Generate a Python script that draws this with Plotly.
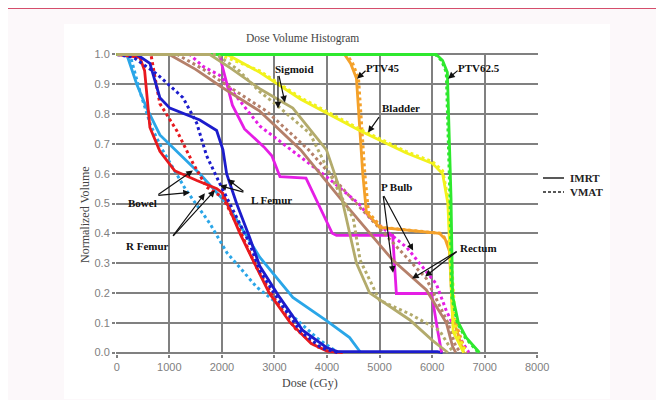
import plotly.graph_objects as go

# ---------------- data (dose in cGy, normalized volume) ----------------
bowel_imrt_dose = [0, 190, 380, 570, 820, 1200, 1580, 2090, 2720, 3350, 3990, 4430, 4560, 4640]
bowel_imrt_vol = [1.0, 1.0, 0.90, 0.82, 0.73, 0.665, 0.60, 0.50, 0.32, 0.185, 0.107, 0.05, 0.02, 0.0]
bowel_vmat_dose = [0, 250, 450, 650, 876, 1300, 1771, 2095, 2660, 3300, 3800, 4200]
bowel_vmat_vol = [1.0, 1.0, 0.87, 0.76, 0.678, 0.55, 0.433, 0.335, 0.22, 0.13, 0.05, 0.0]

rfemur_imrt_dose = [0, 440, 530, 630, 820, 1100, 1524, 1905, 2019, 2343, 2590, 2900, 3300, 3700, 4000, 4300]
rfemur_imrt_vol = [1.0, 0.99, 0.945, 0.755, 0.675, 0.61, 0.577, 0.55, 0.534, 0.40, 0.31, 0.20, 0.10, 0.03, 0.005, 0.0]
rfemur_vmat_dose = [0, 650, 720, 820, 1140, 1450, 1710, 2020, 2340, 2660, 3000, 3400, 3800, 4200]
rfemur_vmat_vol = [1.0, 1.0, 0.93, 0.835, 0.745, 0.635, 0.555, 0.52, 0.41, 0.285, 0.18, 0.08, 0.02, 0.0]

lfemur_imrt_dose = [0, 380, 630, 820, 1010, 1580, 1900, 2020, 2090, 2280, 2530, 2720, 3100, 3540, 3990, 4200, 6100, 6200]
lfemur_imrt_vol = [1.0, 1.0, 0.97, 0.855, 0.82, 0.78, 0.745, 0.68, 0.60, 0.50, 0.385, 0.29, 0.185, 0.074, 0.017, 0.003, 0.003, 0.0]
lfemur_vmat_dose = [0, 320, 760, 1260, 1520, 1710, 1960, 2210, 2530, 2720, 3100, 3500, 3900, 4200]
lfemur_vmat_vol = [1.0, 0.99, 0.935, 0.855, 0.77, 0.66, 0.567, 0.477, 0.365, 0.275, 0.17, 0.07, 0.015, 0.0]

pbulb_imrt_dose = [0, 1950, 2015, 2200, 2430, 2800, 2950, 3105, 3600, 4100, 4180, 5250, 5320, 5990, 6100, 6180]
pbulb_imrt_vol = [1.0, 1.0, 0.956, 0.83, 0.75, 0.69, 0.66, 0.59, 0.585, 0.40, 0.393, 0.393, 0.198, 0.198, 0.08, 0.0]
pbulb_vmat_dose = [0, 1390, 1640, 1960, 2720, 3990, 4600, 4819, 5520, 6080, 6270, 6520, 6700]
pbulb_vmat_vol = [1.0, 1.0, 0.96, 0.93, 0.76, 0.59, 0.50, 0.453, 0.352, 0.23, 0.14, 0.05, 0.0]

rectum_imrt_dose = [0, 1000, 1500, 2000, 2720, 3500, 4240, 5250, 5890, 6270, 6390, 6450]
rectum_imrt_vol = [1.0, 1.0, 0.95, 0.89, 0.81, 0.68, 0.52, 0.31, 0.21, 0.10, 0.02, 0.0]
rectum_vmat_dose = [0, 1150, 1650, 2150, 2850, 3650, 4400, 5570, 5890, 6300, 6450, 6550]
rectum_vmat_vol = [1.0, 1.0, 0.95, 0.89, 0.81, 0.68, 0.53, 0.31, 0.248, 0.10, 0.02, 0.0]

sigmoid_imrt_dose = [0, 1770, 2200, 2720, 3350, 3990, 4240, 4370, 4560, 4810, 5570, 6010, 6300]
sigmoid_imrt_vol = [1.0, 1.0, 0.95, 0.885, 0.82, 0.68, 0.55, 0.45, 0.30, 0.20, 0.11, 0.04, 0.0]
sigmoid_vmat_dose = [0, 1900, 2300, 2720, 3010, 3676, 4250, 4500, 4630, 5000, 5570, 6140, 6400]
sigmoid_vmat_vol = [1.0, 1.0, 0.95, 0.875, 0.835, 0.735, 0.53, 0.45, 0.31, 0.175, 0.13, 0.074, 0.0]

bladder_imrt_dose = [0, 2100, 2720, 3500, 4620, 5500, 6010, 6200, 6300, 6350, 6400, 6600]
bladder_imrt_vol = [1.0, 1.0, 0.94, 0.85, 0.745, 0.67, 0.634, 0.60, 0.50, 0.30, 0.07, 0.0]
bladder_vmat_dose = [0, 1950, 2720, 3500, 4620, 5500, 6010, 6200, 6300, 6380, 6450, 6650]
bladder_vmat_vol = [1.0, 1.0, 0.945, 0.855, 0.75, 0.675, 0.64, 0.61, 0.52, 0.30, 0.07, 0.0]

ptv45_imrt_dose = [0, 4335, 4450, 4560, 4680, 4750, 5000, 6140, 6250, 6330, 6390, 6600]
ptv45_imrt_vol = [1.0, 1.0, 0.97, 0.92, 0.60, 0.47, 0.42, 0.40, 0.38, 0.34, 0.12, 0.0]
ptv45_vmat_dose = [0, 4380, 4490, 4600, 4720, 4790, 5040, 6150, 6270, 6350, 6410, 6640]
ptv45_vmat_vol = [1.0, 1.0, 0.97, 0.92, 0.60, 0.47, 0.42, 0.40, 0.38, 0.34, 0.12, 0.0]

ptv625_imrt_dose = [0, 6080, 6200, 6290, 6330, 6360, 6390, 6500, 6650, 6900]
ptv625_imrt_vol = [1.0, 1.0, 0.98, 0.94, 0.70, 0.52, 0.19, 0.10, 0.05, 0.0]
ptv625_vmat_dose = [0, 6060, 6180, 6270, 6310, 6340, 6370, 6480, 6630, 6880]
ptv625_vmat_vol = [1.0, 1.0, 0.98, 0.94, 0.70, 0.52, 0.19, 0.10, 0.05, 0.0]

x_ticks = [0, 1000, 2000, 3000, 4000, 5000, 6000, 7000, 8000]
y_ticks = [0.0, 0.1, 0.2, 0.3, 0.4, 0.5, 0.6, 0.7, 0.8, 0.9, 1.0]

# (label, dose, volume) text positions and arrows (tail dose, tail vol, head dose, head vol)
organ_labels = [
    ("Sigmoid", 3390, 0.953), ("PTV45", 5067, 0.956), ("PTV62.5", 6895, 0.956),
    ("Bladder", 5410, 0.819), ("P Bulb", 5333, 0.554), ("Rectum", 6876, 0.352),
    ("L Femur", 2952, 0.513), ("Bowel", 495, 0.503), ("R Femur", 590, 0.359),
]
label_arrows = [
    (3067, 0.933, 3067, 0.819), (3080, 0.933, 3200, 0.839),
    (4762, 0.950, 4571, 0.919),
    (6514, 0.950, 6305, 0.919),
    (5010, 0.795, 4781, 0.738),
    (5067, 0.530, 5257, 0.268), (5067, 0.530, 5638, 0.342),
    (6495, 0.342, 5619, 0.248), (6495, 0.342, 5867, 0.255),
    (2438, 0.537, 2114, 0.581), (2438, 0.537, 1962, 0.560),
    (762, 0.527, 1448, 0.611), (762, 0.527, 1390, 0.537),
    (1048, 0.386, 1676, 0.534), (1048, 0.386, 1867, 0.544),
]

# ---------------- layout geometry ----------------
# the page body has an 8px margin, so figure pixel = page pixel - 8
OFF = 8
FIG_W, FIG_H = 664, 400
L, T = 116 - OFF, 53 - OFF
PW, PH = 422, 301
R, B = FIG_W - L - PW, FIG_H - T - PH

def px(xp):
    return (xp - OFF - L) / PW

def py(yp):
    return (T + PH - (yp - OFF)) / PH

C_LB, C_RED, C_BLUE = "#2aa6e8", "#e8191e", "#1c1ccc"
C_MAG, C_BROWN, C_OLIVE = "#e51ee5", "#b5806a", "#b3ab6c"
C_YEL, C_ORG, C_GRN = "#f2f21c", "#f4a12a", "#2ee82e"

series = [
    (bowel_vmat_dose, bowel_vmat_vol, C_LB, "dot"),
    (bowel_imrt_dose, bowel_imrt_vol, C_LB, "solid"),
    (rfemur_vmat_dose, rfemur_vmat_vol, C_RED, "dot"),
    (rfemur_imrt_dose, rfemur_imrt_vol, C_RED, "solid"),
    (lfemur_vmat_dose, lfemur_vmat_vol, C_BLUE, "dot"),
    (lfemur_imrt_dose, lfemur_imrt_vol, C_BLUE, "solid"),
    (pbulb_vmat_dose, pbulb_vmat_vol, C_MAG, "dot"),
    (pbulb_imrt_dose, pbulb_imrt_vol, C_MAG, "solid"),
    (rectum_vmat_dose, rectum_vmat_vol, C_BROWN, "dot"),
    (rectum_imrt_dose, rectum_imrt_vol, C_BROWN, "solid"),
    (ptv45_vmat_dose, ptv45_vmat_vol, C_ORG, "dot"),
    (ptv45_imrt_dose, ptv45_imrt_vol, C_ORG, "solid"),
    (bladder_vmat_dose, bladder_vmat_vol, C_YEL, "dot"),
    (bladder_imrt_dose, bladder_imrt_vol, C_YEL, "solid"),
    (ptv625_vmat_dose, ptv625_vmat_vol, C_GRN, "dot"),
    (ptv625_imrt_dose, ptv625_imrt_vol, C_GRN, "solid"),
    (sigmoid_vmat_dose, sigmoid_vmat_vol, C_OLIVE, "dot"),
    (sigmoid_imrt_dose, sigmoid_imrt_vol, C_OLIVE, "solid"),
]

fig = go.Figure()
for xs, ys, col, dash in series:
    fig.add_trace(go.Scatter(x=xs, y=ys, mode="lines", showlegend=False, hoverinfo="skip",
                             line=dict(color=col, width=2.8 if dash == "solid" else 3, dash=dash)))

SERIF = "Liberation Serif, Times New Roman, serif"
SANS = "Liberation Sans, Arial, sans-serif"

ann = []
for text, xd, yd in organ_labels:
    ann.append(dict(x=xd, y=yd, xref="x", yref="y", text=f"<b>{text}</b>", showarrow=False,
                    font=dict(family=SERIF, size=11, color="#111")))
for tx, ty, hx, hy in label_arrows:
    ann.append(dict(x=hx, y=hy, ax=tx, ay=ty, xref="x", yref="y", axref="x", ayref="y", text="",
                    showarrow=True, arrowhead=2, arrowsize=1.1, arrowwidth=1.2, arrowcolor="#111"))
ann += [
    dict(x=px(302), y=py(30), xref="paper", yref="paper", text="Dose Volume Histogram", showarrow=False,
         font=dict(family=SERIF, size=11.5, color="#444")),
    dict(x=px(310), y=py(392), xref="paper", yref="paper", text="Dose (cGy)", showarrow=False,
         font=dict(family=SERIF, size=12, color="#444")),
    dict(x=px(76), y=py(215), xref="paper", yref="paper", text="Normalized Volume", textangle=-90,
         showarrow=False, font=dict(family=SERIF, size=12, color="#444")),
    dict(x=px(568), y=py(178), xref="paper", yref="paper", xanchor="left", text="<b>IMRT</b>",
         showarrow=False, font=dict(family=SERIF, size=11, color="#222")),
    dict(x=px(568), y=py(192), xref="paper", yref="paper", xanchor="left", text="<b>VMAT</b>",
         showarrow=False, font=dict(family=SERIF, size=11, color="#222")),
]

shapes = [
    dict(type="rect", xref="paper", yref="paper", x0=px(64), x1=px(610), y0=py(24), y1=py(399),
         fillcolor="white", line=dict(width=0), layer="below"),
    dict(type="rect", xref="paper", yref="paper", x0=px(7), x1=px(700), y0=py(8), y1=py(430),
         fillcolor="rgba(0,0,0,0)", line=dict(color="#c8143c", width=1.5), layer="above"),
    dict(type="line", xref="paper", yref="paper", x0=px(543), x1=px(564), y0=py(178), y1=py(178),
         line=dict(color="#222", width=1.5)),
    dict(type="line", xref="paper", yref="paper", x0=px(543), x1=px(564), y0=py(192), y1=py(192),
         line=dict(color="#222", width=1.5, dash="3px,2px")),
]

fig.update_layout(
    width=FIG_W, height=FIG_H,
    margin=dict(l=L, r=R, t=T, b=B),
    paper_bgcolor="#fcf8fa", plot_bgcolor="white",
    annotations=ann, shapes=shapes, showlegend=False,
    xaxis=dict(range=[-15, 8015], tickvals=x_ticks, ticktext=[str(v) for v in x_ticks],
               showgrid=True, gridcolor="#808080", gridwidth=1.5, zeroline=False, showline=False,
               ticks="outside", ticklen=3, tickcolor="#808080", tickwidth=1.5,
               tickfont=dict(family=SANS, size=11, color="#808080")),
    yaxis=dict(range=[-0.005, 1.005], tickvals=y_ticks, ticktext=[f"{v:.1f}" for v in y_ticks],
               showgrid=True, gridcolor="#808080", gridwidth=1.5, zeroline=False, showline=False,
               ticks="outside", ticklen=3, tickcolor="#808080", tickwidth=1.5,
               tickfont=dict(family=SANS, size=11, color="#808080")),
)

fig.write_html("out.html")
